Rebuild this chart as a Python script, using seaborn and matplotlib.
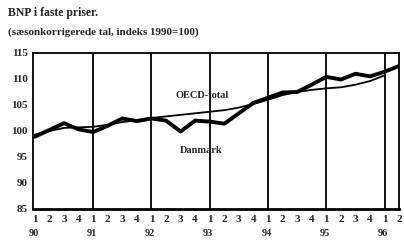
import pandas as pd
import seaborn as sns
import matplotlib.pyplot as plt
import numpy as np

# Quarters 1990Q1 .. 1996Q2
years = ['90', '91', '92', '93', '94', '95', '96']
quarter_labels = ['1', '2', '3', '4'] * 6 + ['1', '2']

# Index values (1990=100)
danmark = [98.9, 100.2, 101.5, 100.3, 99.8, 101.0, 102.4, 101.9, 102.4, 102.0,
           99.9, 102.0, 101.8, 101.4, 103.4, 105.4, 106.4, 107.4, 107.5, 108.9,
           110.4, 109.9, 111.0, 110.5, 111.4, 112.5]
oecd = [99.3, 100.0, 100.6, 100.7, 100.8, 101.2, 101.7, 102.1, 102.5, 102.8,
        103.1, 103.4, 103.7, 104.0, 104.5, 105.2, 106.0, 106.9, 107.5, 107.9,
        108.2, 108.4, 108.9, 109.6, 110.7]

df_dk = pd.DataFrame({'q': np.arange(len(danmark)), 'indeks': danmark})
df_oecd = pd.DataFrame({'q': np.arange(len(oecd)), 'indeks': oecd})

sns.set_style('white')
plt.rcParams['font.family'] = ['Liberation Serif', 'DejaVu Serif']
plt.rcParams['font.weight'] = 'bold'

fig = plt.figure(figsize=(4.04, 2.43), dpi=100)
ax = fig.add_axes([0.082, 0.14, 0.906, 0.642])

sns.lineplot(x='q', y='indeks', data=df_oecd, ax=ax, color='black', linewidth=1.3)
sns.lineplot(x='q', y='indeks', data=df_dk, ax=ax, color='black', linewidth=2.8)

# year separators
for k in range(1, len(years)):
    ax.axvline(4 * k, color='black', linewidth=1.3)

ax.set_xlim(-0.12, 25.0)
ax.set_ylim(85, 115)
ax.set_yticks([85, 90, 95, 100, 105, 110, 115])
ax.set_yticklabels(['85', '90', '95', '100', '105', '110', '115'], fontsize=8, fontweight='bold')
ax.tick_params(axis='y', length=2, pad=2, color='black')
ax.set_xticks([])
ax.set_xlabel('')
ax.set_ylabel('')

for s in ax.spines.values():
    s.set_color('black')
    s.set_linewidth(1.3)
ax.spines['bottom'].set_linewidth(2)

xt = ax.get_xaxis_transform()
for i, lab in enumerate(quarter_labels):
    ax.text(i, -0.04, lab, transform=xt, ha='center', va='top', fontsize=8, fontweight='bold')
for k, yr in enumerate(years):
    ax.text(4 * k - 0.1, -0.13, yr, transform=xt, ha='center', va='top', fontsize=7.5, fontweight='bold')

ax.text(11.5, 106.8, 'OECD-total', ha='center', va='center', fontsize=7.5, fontweight='bold')
ax.text(11.4, 96.3, 'Danmark', ha='center', va='center', fontsize=7.5, fontweight='bold')

fig.text(0.02, 0.945, 'BNP i faste priser.', ha='left', va='center', fontsize=8.5, fontweight='bold')
fig.text(0.02, 0.868, '(sæsonkorrigerede tal, indeks 1990=100)', ha='left', va='center', fontsize=8, fontweight='bold')

fig.savefig('out.png', dpi=100)
